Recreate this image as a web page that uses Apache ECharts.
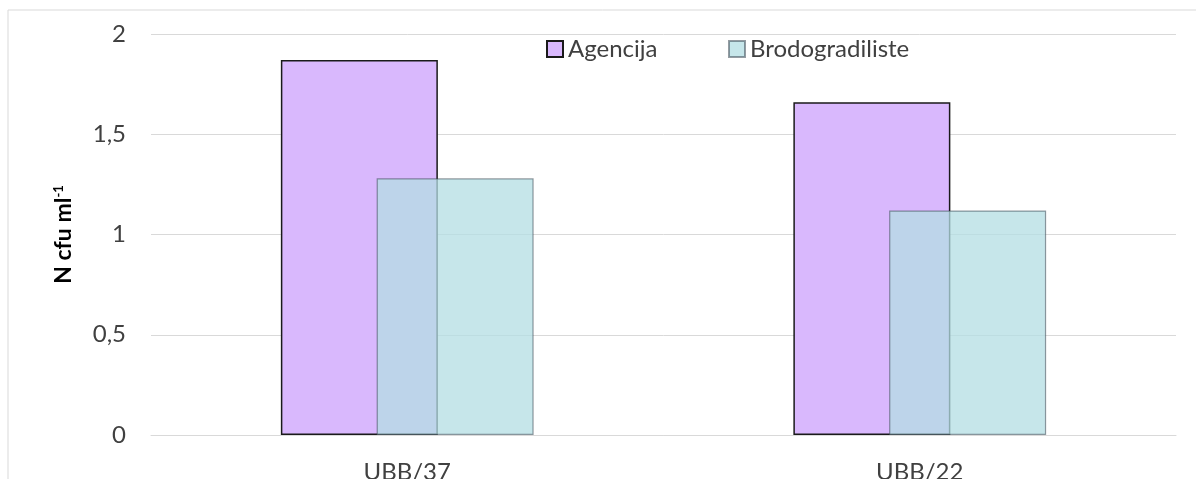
<!DOCTYPE html>
<html>
<head>
<meta charset="utf-8">
<script src="https://cdn.jsdelivr.net/npm/echarts@6/dist/echarts.min.js"></script>
<style>
  html, body { margin: 0; padding: 0; background: #fff; }
  #chart { width: 1196px; height: 479px; }
</style>
</head>
<body>
<div id="chart"></div>
<script>
// podaci
var categories = ['UBB/37', 'UBB/22'];
var agencija = [1.87, 1.66];
var brodogradiliste = [1.28, 1.12];
var yTicks = [0, 0.5, 1, 1.5, 2];

var chart = echarts.init(document.getElementById('chart'));

var font = 'Lato, "Open Sans", sans-serif';

var option = {
  backgroundColor: '#fff',
  animation: false,
  graphic: [{
    type: 'rect',
    shape: { x: 8, y: 10, width: 1400, height: 700 },
    style: { fill: 'none', stroke: '#d9d9d9', lineWidth: 1 },
    silent: true
  }],
  legend: [{
    data: ['Agencija'],
    left: 546,
    top: 37,
    padding: 0,
    icon: 'rect',
    itemWidth: 16,
    itemHeight: 16,
    textStyle: { fontFamily: font, fontSize: 24, color: '#404040' }
  }, {
    data: ['Brodogradiliste'],
    left: 728,
    top: 37,
    padding: 0,
    icon: 'rect',
    itemWidth: 16,
    itemHeight: 16,
    textStyle: { fontFamily: font, fontSize: 24, color: '#404040' }
  }],
  grid: { left: 151, right: 20, top: 34, bottom: 44, containLabel: false, outerBoundsMode: 'none' },
  xAxis: {
    type: 'category',
    data: categories,
    axisLine: { lineStyle: { color: '#d9d9d9', width: 1 } },
    axisTick: { show: false },
    axisLabel: { fontFamily: font, fontSize: 24, color: '#404040', margin: 25 }
  },
  yAxis: {
    type: 'value',
    min: yTicks[0],
    max: yTicks[yTicks.length - 1],
    interval: 0.5,
    name: '{a|N cfu ml}{b|-1}',
    nameLocation: 'middle',
    nameRotate: 90,
    nameGap: 76,
    nameTextStyle: {
      rich: {
        a: { fontFamily: font, fontSize: 23, fontWeight: 'bold', color: '#000' },
        b: { fontFamily: font, fontSize: 13, fontWeight: 'bold', color: '#000', verticalAlign: 'top', padding: [0, 0, 10, 0] }
      }
    },
    axisLine: { show: false },
    axisTick: { show: false },
    splitLine: { lineStyle: { color: '#d9d9d9', width: 1 } },
    axisLabel: {
      fontFamily: font, fontSize: 24, color: '#404040', margin: 25,
      formatter: function (v) { return String(v).replace('.', ','); }
    }
  },
  series: [{
    name: 'Agencija',
    type: 'bar',
    data: agencija,
    barWidth: 157,
    barGap: '-39%',
    itemStyle: { color: '#d9b8fd', borderColor: '#1a1a1a', borderWidth: 1.5 }
  }, {
    name: 'Brodogradiliste',
    type: 'bar',
    data: brodogradiliste,
    barWidth: 157,
    itemStyle: { color: 'rgba(179,221,227,0.75)', borderColor: 'rgba(60,72,84,0.55)', borderWidth: 1.2 }
  }]
};

chart.setOption(option);
</script>
</body>
</html>
